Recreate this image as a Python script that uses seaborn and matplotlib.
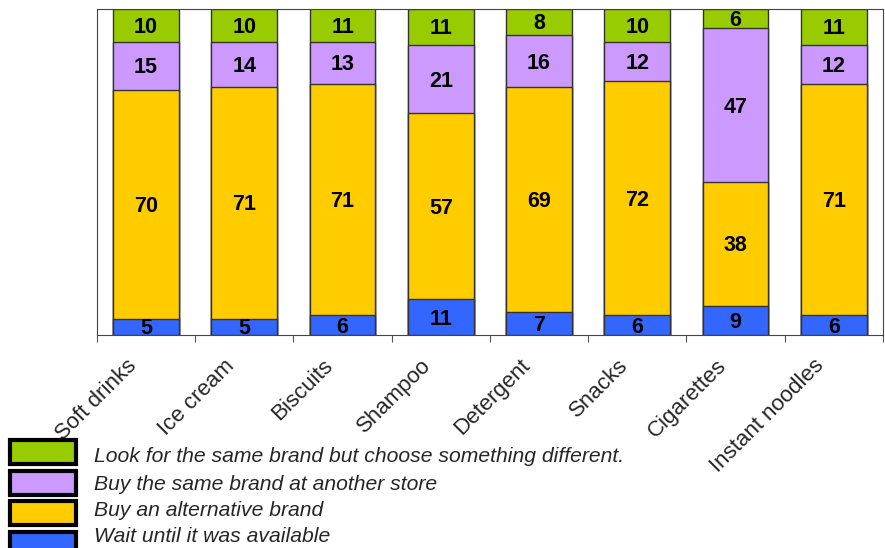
import matplotlib
matplotlib.use("Agg")
import matplotlib.pyplot as plt
import matplotlib.transforms as mtransforms
import seaborn as sns
import numpy as np
import pandas as pd
from matplotlib.patches import Rectangle

categories = ["Soft drinks", "Ice cream", "Biscuits", "Shampoo", "Detergent",
              "Snacks", "Cigarettes", "Instant noodles"]
wait = [5, 5, 6, 11, 7, 6, 9, 6]
alternative = [70, 71, 71, 57, 69, 72, 38, 71]
other_store = [15, 14, 13, 21, 16, 12, 47, 12]
look_choose = [10, 10, 11, 11, 8, 10, 6, 11]

series_labels = ["Look for the same brand but choose something different.",
                 "Buy the same brand at another store",
                 "Buy an alternative brand",
                 "Wait until it was available"]
colors = ["#99CC00", "#CC99FF", "#FFCC00", "#3366FF"]

sns.set_style("white")
plt.rcParams["font.family"] = ["Liberation Sans", "DejaVu Sans"]

fig = plt.figure(figsize=(8.85, 5.48), dpi=100)
ax = fig.add_axes([0.1096, 0.3887, 0.888, 0.595])

seg_bottom_up = [wait, alternative, other_store, look_choose]
cols_bottom_up = [colors[3], colors[2], colors[1], colors[0]]
cums = np.cumsum(np.array(seg_bottom_up), axis=0)

# draw from the tallest cumulative down (layered stacking)
for i in range(3, -1, -1):
    df = pd.DataFrame({"cat": categories, "val": cums[i]})
    sns.barplot(data=df, x="cat", y="val", color=cols_bottom_up[i], width=0.67,
                edgecolor="#333333", linewidth=1.0, ax=ax, saturation=1)

# labels
lab_off = ax.transData + mtransforms.ScaledTranslation(0, -2 / 100, fig.dpi_scale_trans)
for i in range(4):
    base = cums[i] - np.array(seg_bottom_up[i])
    for j in range(len(categories)):
        top = min(cums[i][j], 100)
        mid = (base[j] + top) / 2
        ax.text(j, mid, str(seg_bottom_up[i][j]), ha="center", va="center",
                fontsize=15.5, fontweight="bold", color="black", transform=lab_off)

ax.set_ylim(0, 100)
ax.set_xlim(-0.5, len(categories) - 0.5)
ax.set_xlabel("")
ax.set_ylabel("")
ax.set_yticks([])
ax.set_xticks(np.arange(-0.5, len(categories) - 0.4, 1.0))
ax.set_xticklabels([])
ax.set_xticks(np.arange(len(categories)), minor=True)
ax.set_xticklabels(categories, minor=True, rotation=45, ha="right",
                   rotation_mode="anchor", fontsize=16)
ax.tick_params(axis="x", which="major", length=5, width=0.8, color="#555555", direction="out", bottom=True)
ax.tick_params(axis="x", which="minor", length=0, pad=8)
offset = mtransforms.ScaledTranslation(-20 / 100, -9 / 100, fig.dpi_scale_trans)
for lab in ax.get_xticklabels(minor=True):
    lab.set_transform(lab.get_transform() + offset)
for s in ax.spines.values():
    s.set_color("#444444")
    s.set_linewidth(0.8)

# legend (manual)
patch_y = [452, 483, 513, 544]
text_y = [456, 484, 510, 537]
for k in range(4):
    yc = patch_y[k]
    fig.patches.append(Rectangle((10 / 885, 1 - (yc + 12) / 548), 66 / 885, 24 / 548,
                                 transform=fig.transFigure, facecolor=colors[k],
                                 edgecolor="black", linewidth=3, zorder=5))
    fig.text(94 / 885, 1 - text_y[k] / 548, series_labels[k], fontsize=15.2, style="italic",
             ha="left", va="center")

fig.savefig("out.png", dpi=100)
